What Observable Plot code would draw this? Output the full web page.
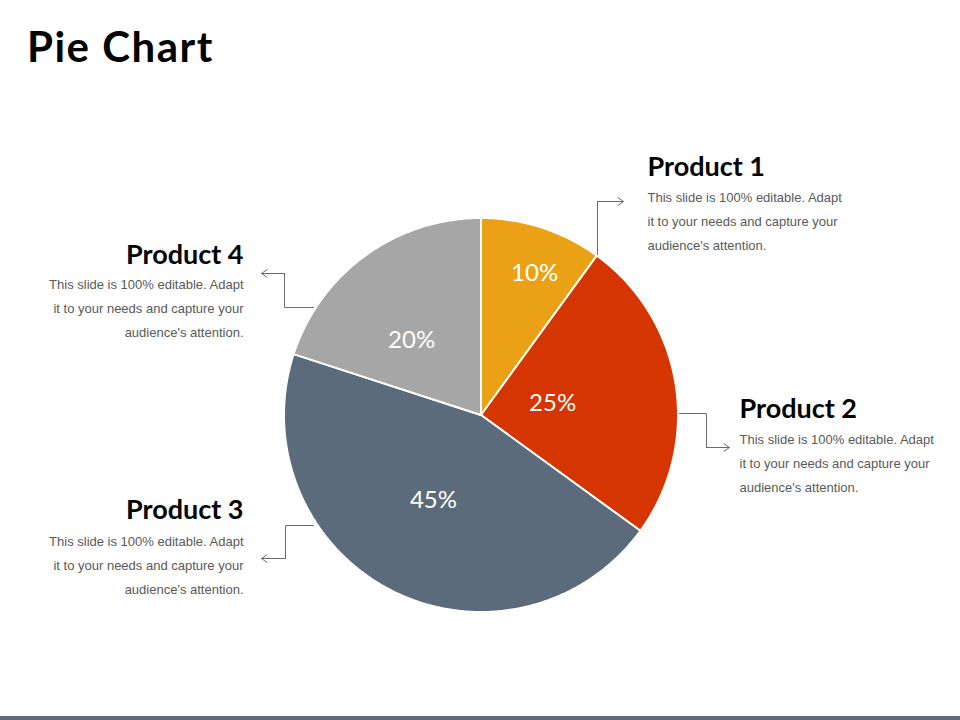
<!DOCTYPE html>
<html>
<head>
<meta charset="utf-8">
<script src="https://cdn.jsdelivr.net/npm/d3@7"></script>
<script src="https://cdn.jsdelivr.net/npm/@observablehq/plot@0.6"></script>
<style>
  html, body { margin: 0; padding: 0; background: #ffffff; }
  body { width: 960px; height: 720px; overflow: hidden; position: relative; }
  #title { height: 90px; box-sizing: border-box; padding: 23px 0 0 27px;
           font-family: Lato, "DejaVu Sans", sans-serif; font-weight: 700; font-size: 42px;
           letter-spacing: 1.5px; color: #000; line-height: 46px; }
  #chart { height: 626px; }
  #bar { position: absolute; left: 0; bottom: 0; width: 960px; height: 4px; background: #5F6B78; }
</style>
</head>
<body>
<div id="title">Pie Chart</div>
<div id="chart"></div>
<div id="bar"></div>
<script>
// ---- data ----
const products = ["Product 1", "Product 2", "Product 3", "Product 4"];
const shares = [10, 25, 45, 20];
const shareLabels = ["10%", "25%", "45%", "20%"];
const descriptionLines = [
  "This slide is 100% editable. Adapt",
  "it to your needs and capture your",
  "audience's attention."
];

// ---- style / layout ----
const palette = ["#EBA115", "#D53500", "#5B6B7C", "#A6A6A6"];
const W = 960, H = 626;
const cx = 481, cy = 325, R = 197;
const labelRadius = [0.77, 0.366, 0.495, 0.52];  // label distance (fraction of radius) per slice
const labelShift = [2.5, -0.6, 2.5, -7];         // label angle shift (degrees) per slice
const calloutLayout = [
  {x: 647, titleY: 85,  descY: 128, anchor: "start",
   path: [[597,164],[597,111]], arrow: [597,111,623,111]},
  {x: 739, titleY: 327, descY: 370, anchor: "start",
   path: [[679,323],[706,323],[706,357]], arrow: [706,357,729,357]},
  {x: 243, titleY: 428, descY: 472, anchor: "end",
   path: [[313,435],[285,435],[285,468]], arrow: [285,468,261,468]},
  {x: 243, titleY: 173, descY: 215, anchor: "end",
   path: [[313,217],[284,217],[284,183]], arrow: [284,183,261,183]}
];

// ---- geometry derived from the data ----
const table = products.map((p, i) => ({product: p, share: shares[i], label: shareLabels[i]}));
const arcs = d3.pie().sort(null).value(d => d.share)(table);

const wedgeRows = [];
arcs.forEach(a => {
  const n = Math.max(2, Math.ceil((a.endAngle - a.startAngle) / (Math.PI / 360)));
  for (let k = 0; k <= n; k++) {
    const t = a.startAngle + (a.endAngle - a.startAngle) * k / n;
    wedgeRows.push({product: a.data.product, x1: cx, y1: cy,
                    x2: cx + R * Math.sin(t), y2: cy - R * Math.cos(t)});
  }
});

const labelRows = arcs.map((a, i) => {
  const m = (a.startAngle + a.endAngle) / 2 + labelShift[i] * Math.PI / 180;
  return {label: a.data.label, x: cx + labelRadius[i] * R * Math.sin(m), y: cy - labelRadius[i] * R * Math.cos(m)};
});

const calloutRows = products.map((p, i) => ({product: p, desc: descriptionLines.join("\n"), ...calloutLayout[i]}));
const pathRows = calloutRows.flatMap(c => c.path.map(([x, y]) => ({product: c.product, x, y})));
const arrowRows = calloutRows.map(c => ({x1: c.arrow[0], y1: c.arrow[1], x2: c.arrow[2], y2: c.arrow[3]}));

const calloutMarks = ["start", "end"].flatMap(anchor => {
  const rows = calloutRows.filter(c => c.anchor === anchor);
  return [
    Plot.text(rows, {x: "x", y: "titleY", text: "product", textAnchor: anchor, lineAnchor: "bottom",
                     fontSize: 27, fontWeight: 700, fontFamily: "Lato, sans-serif", fill: "#000000",
                     letterSpacing: "0.5px"}),
    Plot.text(rows, {x: "x", y: "descY", text: "desc", textAnchor: anchor, lineAnchor: "middle",
                     lineHeight: 1.85, fontSize: 13, fontFamily: "'Liberation Sans', Arial, sans-serif",
                     fill: "#595959"})
  ];
});

const chart = Plot.plot({
  width: W, height: H,
  margin: 0,
  x: {domain: [0, W], range: [0, W], axis: null},
  y: {domain: [0, H], range: [0, H], axis: null},
  color: {domain: products, range: palette},
  style: {background: "transparent", overflow: "visible"},
  marks: [
    Plot.area(wedgeRows, {x1: "x1", y1: "y1", x2: "x2", y2: "y2", z: "product", fill: "product",
                          stroke: "#ffffff", strokeWidth: 2, strokeLinejoin: "round"}),
    Plot.text(labelRows, {x: "x", y: "y", text: "label", fill: "#ffffff", fontSize: 24,
                          fontFamily: "Lato, sans-serif", fontWeight: 400}),
    Plot.line(pathRows, {x: "x", y: "y", z: "product", stroke: "#6b6b6b", strokeWidth: 1}),
    Plot.arrow(arrowRows, {x1: "x1", y1: "y1", x2: "x2", y2: "y2", stroke: "#6b6b6b", strokeWidth: 1,
                           headLength: 10, headAngle: 70}),
    ...calloutMarks
  ]
});
document.getElementById("chart").appendChild(chart);
</script>
</body>
</html>
